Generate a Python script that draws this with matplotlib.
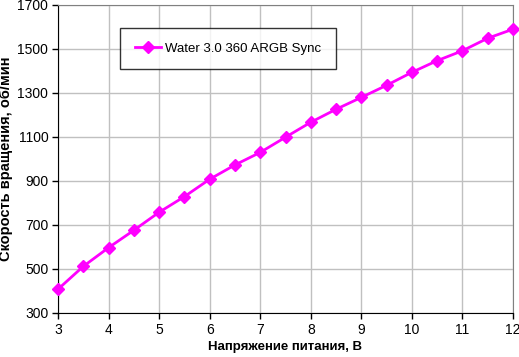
import matplotlib
matplotlib.use("Agg")
import matplotlib.pyplot as plt

# ── Data ──────────────────────────────────────────────────────────────────────
voltage = [3, 3.5, 4, 4.5, 5, 5.5, 6, 6.5, 7, 7.5, 8, 8.5, 9, 9.5, 10, 10.5, 11, 11.5, 12]
rpm = [408, 512, 597, 676, 758, 829, 908, 973, 1030, 1099, 1167, 1226, 1280, 1335,
       1394, 1447, 1492, 1549, 1590]
series_label = "Water 3.0 360 ARGB Sync"
x_ticks = list(range(3, 13))
y_ticks = list(range(300, 1701, 200))

plt.rcParams.update({
    "font.family": ["Liberation Sans", "DejaVu Sans"],
    "font.size": 9,
})

W, H = 519, 357
fig = plt.figure(figsize=(W / 100, H / 100), dpi=100)
ax = fig.add_axes([58 / W, 1 - 313 / H, (513 - 58) / W, (313 - 5) / H])

ax.plot(voltage, rpm, color="#ff00ff", linewidth=2, marker="D", markersize=6.5,
        label=series_label, zorder=3, clip_on=False)

ax.set_xlim(3, 12)
ax.set_ylim(300, 1700)
ax.set_xticks(x_ticks)
ax.set_yticks(y_ticks)
ax.grid(True, color="#c0c0c0", linewidth=1)
ax.set_axisbelow(True)

for side in ("top", "right"):
    ax.spines[side].set_color("#808080")
for side in ("left", "bottom"):
    ax.spines[side].set_color("black")
ax.tick_params(direction="out", length=4, width=1, color="black", labelsize=10, pad=3)

ax.set_xlabel("Напряжение питания, В", fontweight="bold", fontsize=9.5, labelpad=3)
ax.set_ylabel("Скорость вращения, об/мин", fontweight="bold", fontsize=10.5, labelpad=3)

leg = ax.legend(loc="upper left", bbox_to_anchor=((120 - 58) / (513 - 58), 1 - (28 - 5) / 308),
                frameon=True, fancybox=False, edgecolor="black", fontsize=9.5,
                borderpad=1.1, handlelength=2.0, handletextpad=0.3, borderaxespad=0)
leg.get_frame().set_linewidth(1)

fig.savefig("out.png", dpi=100)
